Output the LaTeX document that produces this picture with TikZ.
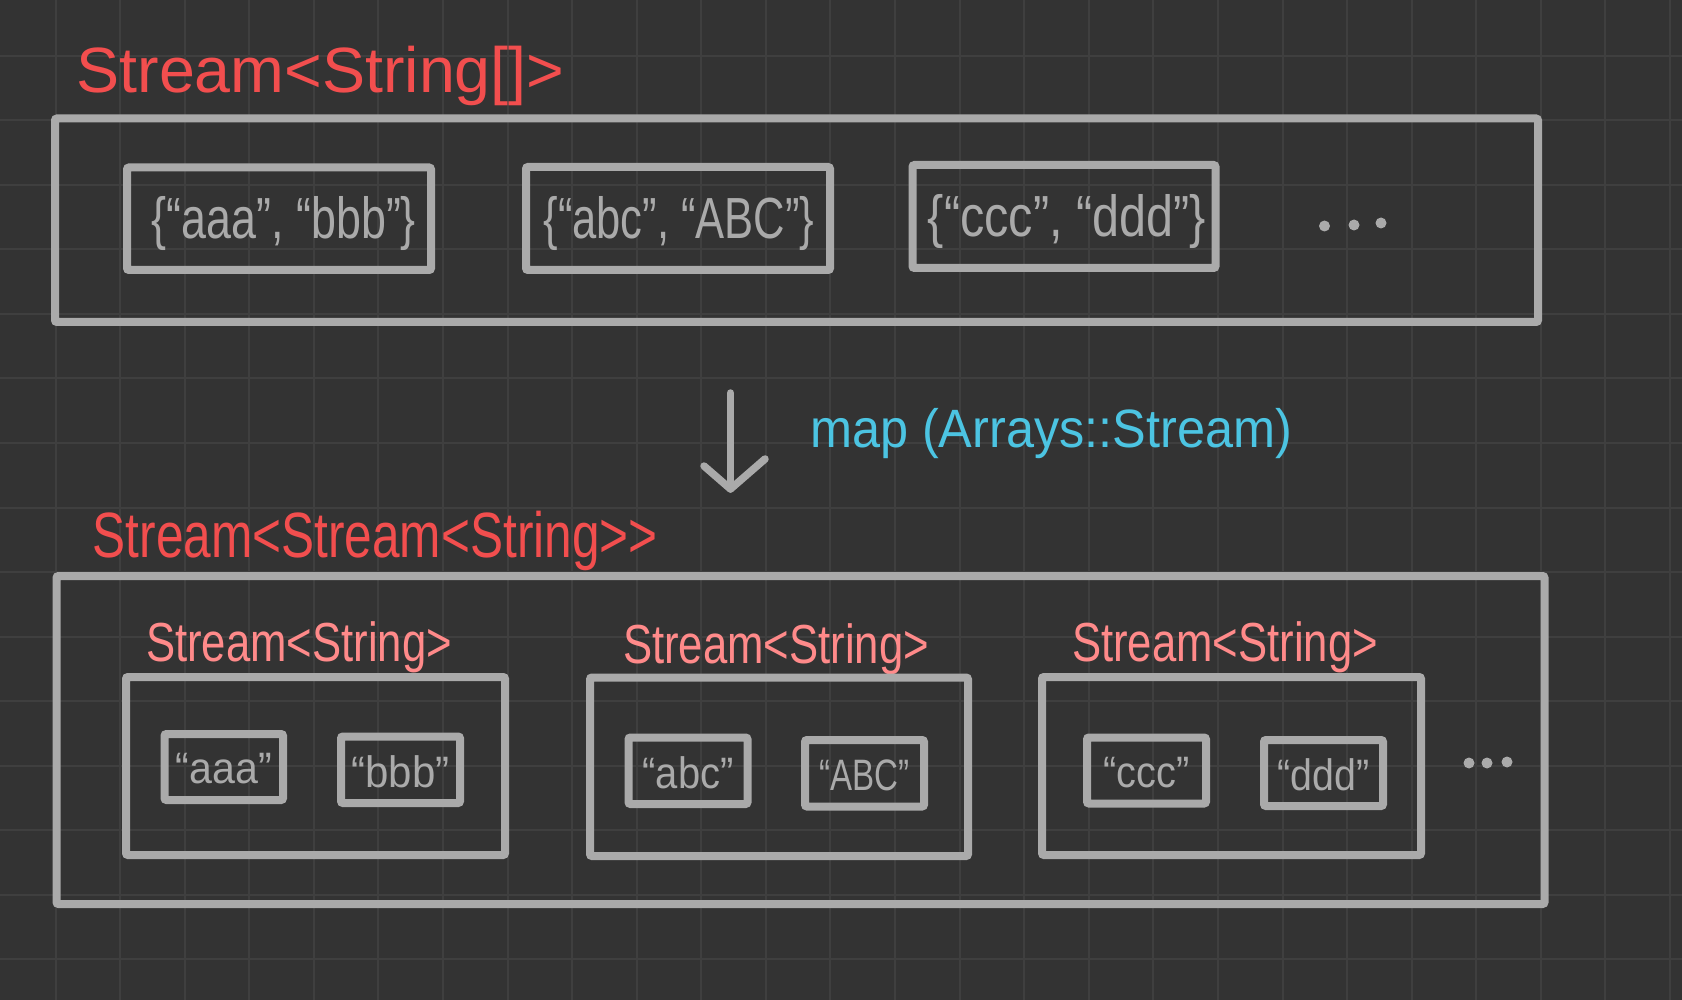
\documentclass[tikz,border=0pt]{standalone}
\usepackage{fontspec}
\setmainfont{Liberation Sans}[Ligatures=TeXOff]
\usepackage{graphicx}
\definecolor{bgc}{RGB}{51,51,51}
\definecolor{gridc}{RGB}{63,63,63}
\definecolor{boxgray}{RGB}{170,170,170}
\definecolor{labred}{RGB}{242,78,78}
\definecolor{labpink}{RGB}{255,138,138}
\definecolor{labblue}{RGB}{76,196,226}
\newcommand{\fitw}[2]{\resizebox{#1pt}{\height}{#2}}
\begin{document}
\begin{tikzpicture}[x=1pt,y=-1pt,
  gridline/.style={draw=gridc,line width=2pt},
  box/.style={draw=boxgray,line width=8pt,rounded corners=2pt,inner sep=0pt,outer sep=0pt},
  boxtext/.style={inner sep=0pt,outer sep=0pt,text=boxgray},
  lab/.style={inner sep=0pt,outer sep=0pt,anchor=base west},
  arrowline/.style={draw=boxgray,line width=7.5pt,line cap=round,line join=round}]
\useasboundingbox (0,0) rectangle (1682,1000);
\fill[bgc] (0,0) rectangle (1682,1000);
\foreach \i in {-1,...,25}{\draw[gridline] ({55.5+64.58*\i},0) -- ({55.5+64.58*\i},1000);}
\foreach \j in {-1,...,15}{\draw[gridline] (0,{56+64.5*\j}) -- (1682,{56+64.5*\j});}

% top part
\node[lab,text=labred] (toplab) at (76.5,93) {\fitw{488}{\fontsize{64}{64}\selectfont Stream<String[]>}};
\node[box,minimum width=1483pt,minimum height=203.5pt] (top) at (796.5,220.25) {};
\node[box,minimum width=304pt,minimum height=102.5pt] (t1) at (279,218.75) {};
\node[box,minimum width=304pt,minimum height=103pt] (t2) at (678,218.5) {};
\node[box,minimum width=303pt,minimum height=103pt] (t3) at (1064,216.5) {};
\node[boxtext] (t1txt) at ([xshift=5pt,yshift=-5pt]t1.center) {\fitw{264}{\fontsize{58}{58}\selectfont\{“aaa”, “bbb”\}}};
\node[boxtext] (t2txt) at ([xshift=1pt,yshift=-5pt]t2.center) {\fitw{271}{\fontsize{58}{58}\selectfont\{“abc”, “ABC”\}}};
\node[boxtext] (t3txt) at ([xshift=3pt,yshift=-5pt]t3.center) {\fitw{278}{\fontsize{58}{58}\selectfont\{“ccc”, “ddd”\}}};
\fill[boxgray] (1324.5,226) circle (5.5pt) (1354,225) circle (5.5pt) (1381,223) circle (5.5pt);

% arrow
\coordinate (arrA) at (730.5,393);
\coordinate (arrB) at (730.5,489);
\coordinate (headL) at (704,466);
\coordinate (headR) at (765,459);
\draw[arrowline] (arrA) -- (arrB);
\draw[arrowline] (headL) -- (arrB) -- (headR);
\node[lab,text=labblue] (maplab) at (810,447) {\fitw{482}{\fontsize{54}{54}\selectfont map (Arrays::Stream)}};

% bottom part
\node[lab,text=labred] (botlab) at (92.7,557) {\fitw{565}{\fontsize{64}{64}\selectfont Stream<Stream<String>>}};
\node[box,minimum width=1488pt,minimum height=328pt] (bot) at (800.5,740) {};

\node[lab,text=labpink] (s1lab) at (146,661) {\fitw{306}{\fontsize{55}{55}\selectfont Stream<String>}};
\node[lab,text=labpink] (s2lab) at (623,663) {\fitw{306}{\fontsize{55}{55}\selectfont Stream<String>}};
\node[lab,text=labpink] (s3lab) at (1072,661) {\fitw{306}{\fontsize{55}{55}\selectfont Stream<String>}};

\node[box,minimum width=379pt,minimum height=178pt] (s1) at (315.5,766) {};
\node[box,minimum width=378pt,minimum height=178.5pt] (s2) at (779,766.75) {};
\node[box,minimum width=379pt,minimum height=178pt] (s3) at (1231.5,766) {};

\node[box,minimum width=118.5pt,minimum height=66pt] (aaa) at (223.75,767) {};
\node[box,minimum width=119pt,minimum height=66.5pt] (bbb) at (400.5,769.75) {};
\node[box,minimum width=119pt,minimum height=66.5pt] (abc) at (688,770.75) {};
\node[box,minimum width=119pt,minimum height=66.5pt] (ABC) at (864.5,773.25) {};
\node[box,minimum width=119pt,minimum height=66pt] (ccc) at (1146.5,770.5) {};
\node[box,minimum width=119pt,minimum height=66pt] (ddd) at (1323.5,773) {};
\node[boxtext] (aaatxt) at ([yshift=-2pt]aaa.center) {\fitw{96}{\fontsize{44}{44}\selectfont “aaa”}};
\node[boxtext] (bbbtxt) at ([yshift=-2pt]bbb.center) {\fitw{98}{\fontsize{44}{44}\selectfont “bbb”}};
\node[boxtext] (abctxt) at ([yshift=-2pt]abc.center) {\fitw{91}{\fontsize{44}{44}\selectfont “abc”}};
\node[boxtext] (ABCtxt) at ([yshift=-2pt]ABC.center) {\fitw{90}{\fontsize{44}{44}\selectfont “ABC”}};
\node[boxtext] (ccctxt) at ([yshift=-2pt]ccc.center) {\fitw{86}{\fontsize{44}{44}\selectfont “ccc”}};
\node[boxtext] (dddtxt) at ([yshift=-2pt]ddd.center) {\fitw{92}{\fontsize{44}{44}\selectfont “ddd”}};
\fill[boxgray] (1469,763) circle (5.5pt) (1487,763) circle (5.5pt) (1507,762) circle (5.5pt);
\end{tikzpicture}
\end{document}
